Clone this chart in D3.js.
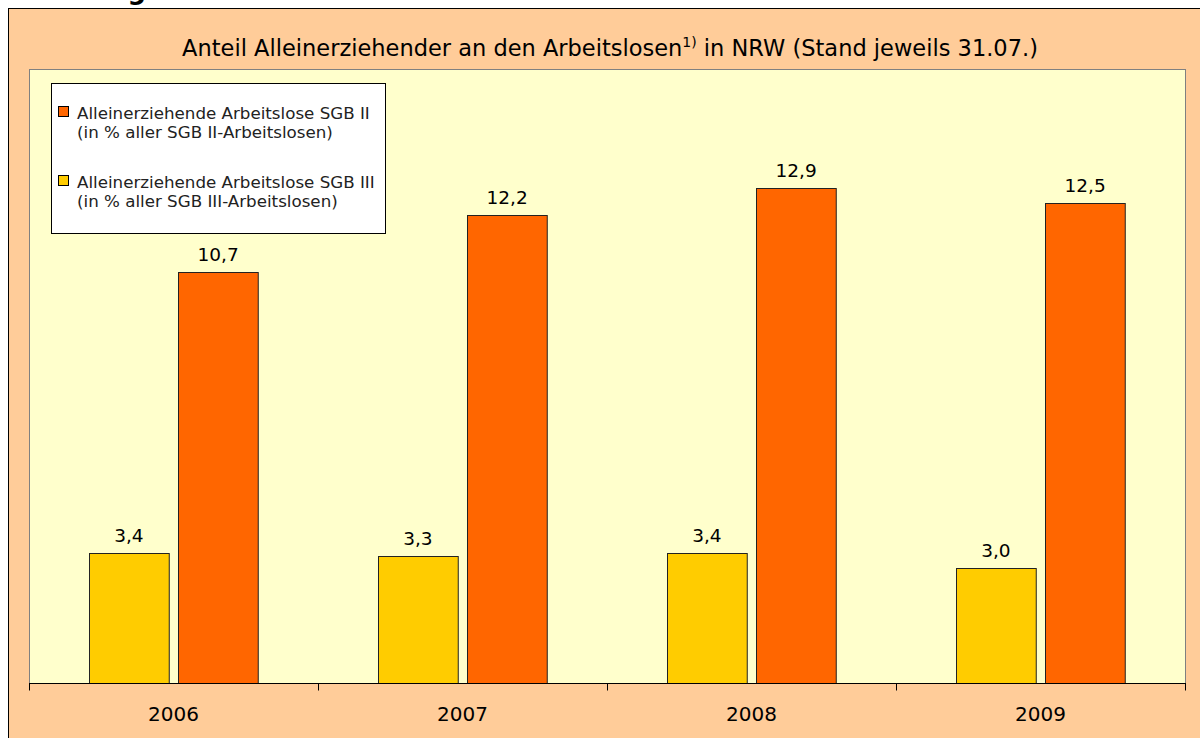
<!DOCTYPE html>
<html>
<head>
<meta charset="utf-8">
<script src="https://cdn.jsdelivr.net/npm/d3@7"></script>
<style>
  body { margin: 0; background: #fff; }
  svg { display: block; font-family: "DejaVu Sans", sans-serif; }
</style>
</head>
<body>
<div id="chart"></div>
<script>
const years = ["2006", "2007", "2008", "2009"];
const sgb3 = [3.4, 3.3, 3.4, 3.0];
const sgb2 = [10.7, 12.2, 12.9, 12.5];
const seriesNames = ["sgb3", "sgb2"];
const legendLines = [
    ["Alleinerziehende Arbeitslose SGB II", "(in % aller SGB II-Arbeitslosen)"],
    ["Alleinerziehende Arbeitslose SGB III", "(in % aller SGB III-Arbeitslosen)"]
];

const width = 1200, height = 738;
const plot = { left: 29, right: 1185, top: 69, bottom: 683 };
const colors = { sgb2: "#FF6600", sgb3: "#FFCC00" };
const fmt = v => d3.format(".1f")(v).replace(".", ",");

const svg = d3.select("#chart").append("svg")
    .attr("width", width)
    .attr("height", height);

// cut-off caption above the chart frame
svg.append("text")
    .attr("x", 146).attr("y", -1)
    .attr("text-anchor", "end")
    .attr("font-size", "26px")
    .attr("font-weight", "bold")
    .text("Abbildung");

// outer frame
svg.append("rect")
    .attr("x", 8.5).attr("y", 8.5)
    .attr("width", 1220).attr("height", 760)
    .attr("fill", "#FFCC99")
    .attr("stroke", "#000");

// title
const title = svg.append("text")
    .attr("x", 610).attr("y", 56)
    .attr("text-anchor", "middle")
    .attr("font-size", "22.5px")
    .attr("fill", "#000");
title.append("tspan").text("Anteil Alleinerziehender an den Arbeitslosen");
title.append("tspan").attr("font-size", "14px").attr("dy", -9).text("1)");
title.append("tspan").attr("dy", 9).text(" in NRW (Stand jeweils 31.07.)");

// plot area
svg.append("rect")
    .attr("x", plot.left + 0.5).attr("y", plot.top + 0.5)
    .attr("width", plot.right - plot.left).attr("height", plot.bottom - plot.top)
    .attr("fill", "#FFFFCC")
    .attr("stroke", "#808080");

const x0 = d3.scaleBand()
    .domain(years)
    .range([plot.left, plot.right])
    .paddingInner(0)
    .paddingOuter(0);

// 60 + 80 + 9 + 80 + 60 inside each 289px category
const x1 = d3.scaleBand()
    .domain(seriesNames)
    .range([60 / 289 * x0.bandwidth(), 229 / 289 * x0.bandwidth()])
    .paddingInner(9 / 169 * 2)
    .paddingOuter(0);

const y = d3.scaleLinear()
    .domain([0, 16])
    .range([plot.bottom, plot.top]);

const rows = years.map((yr, i) => ({ year: yr, sgb3: sgb3[i], sgb2: sgb2[i] }));

const groups = svg.append("g")
    .selectAll("g")
    .data(rows)
    .join("g")
    .attr("transform", d => `translate(${x0(d.year)},0)`);

const bars = groups.selectAll("g")
    .data(d => seriesNames.map(k => ({ key: k, value: d[k] })))
    .join("g");

bars.append("rect")
    .attr("x", d => Math.round(x1(d.key)) + 0.5)
    .attr("y", d => Math.round(y(d.value)) + 0.5)
    .attr("width", x1.bandwidth())
    .attr("height", d => plot.bottom - Math.round(y(d.value)))
    .attr("fill", d => colors[d.key])
    .attr("stroke", "#222")
    .attr("stroke-width", 1);

bars.append("text")
    .attr("x", d => x1(d.key) + x1.bandwidth() / 2)
    .attr("y", d => y(d.value) - 11)
    .attr("text-anchor", "middle")
    .attr("font-size", "18.5px")
    .attr("fill", "#000")
    .text(d => fmt(d.value));

// x axis
const xAxis = svg.append("g")
    .attr("transform", `translate(0,${plot.bottom + 0.5})`);
xAxis.append("line")
    .attr("x1", plot.left).attr("x2", plot.right + 1)
    .attr("stroke", "#000");
xAxis.selectAll("line.tick")
    .data(years.map(yr => x0(yr)).concat([plot.right]))
    .join("line")
    .attr("class", "tick")
    .attr("x1", d => Math.round(d) + 0.5).attr("x2", d => Math.round(d) + 0.5)
    .attr("y1", 0).attr("y2", 7)
    .attr("stroke", "#000");
xAxis.selectAll("text")
    .data(years)
    .join("text")
    .attr("x", d => x0(d) + x0.bandwidth() / 2)
    .attr("y", 37)
    .attr("text-anchor", "middle")
    .attr("font-size", "20px")
    .attr("fill", "#000")
    .text(d => d);

// legend
const legend = svg.append("g");
legend.append("rect")
    .attr("x", 51.5).attr("y", 83.5)
    .attr("width", 334).attr("height", 150)
    .attr("fill", "#fff")
    .attr("stroke", "#000");

const legendKeys = ["sgb2", "sgb3"];
legendKeys.forEach((k, i) => {
    const top = 106 + i * 69;
    legend.append("rect")
        .attr("x", 58.5).attr("y", top + 0.5)
        .attr("width", 10).attr("height", 10)
        .attr("fill", colors[k])
        .attr("stroke", "#000");
    legendLines[i].forEach((line, j) => {
        legend.append("text")
            .attr("x", 77)
            .attr("y", top + 13 + j * 19)
            .attr("font-size", "16.7px")
            .attr("fill", "#222")
            .text(line);
    });
});
</script>
</body>
</html>
